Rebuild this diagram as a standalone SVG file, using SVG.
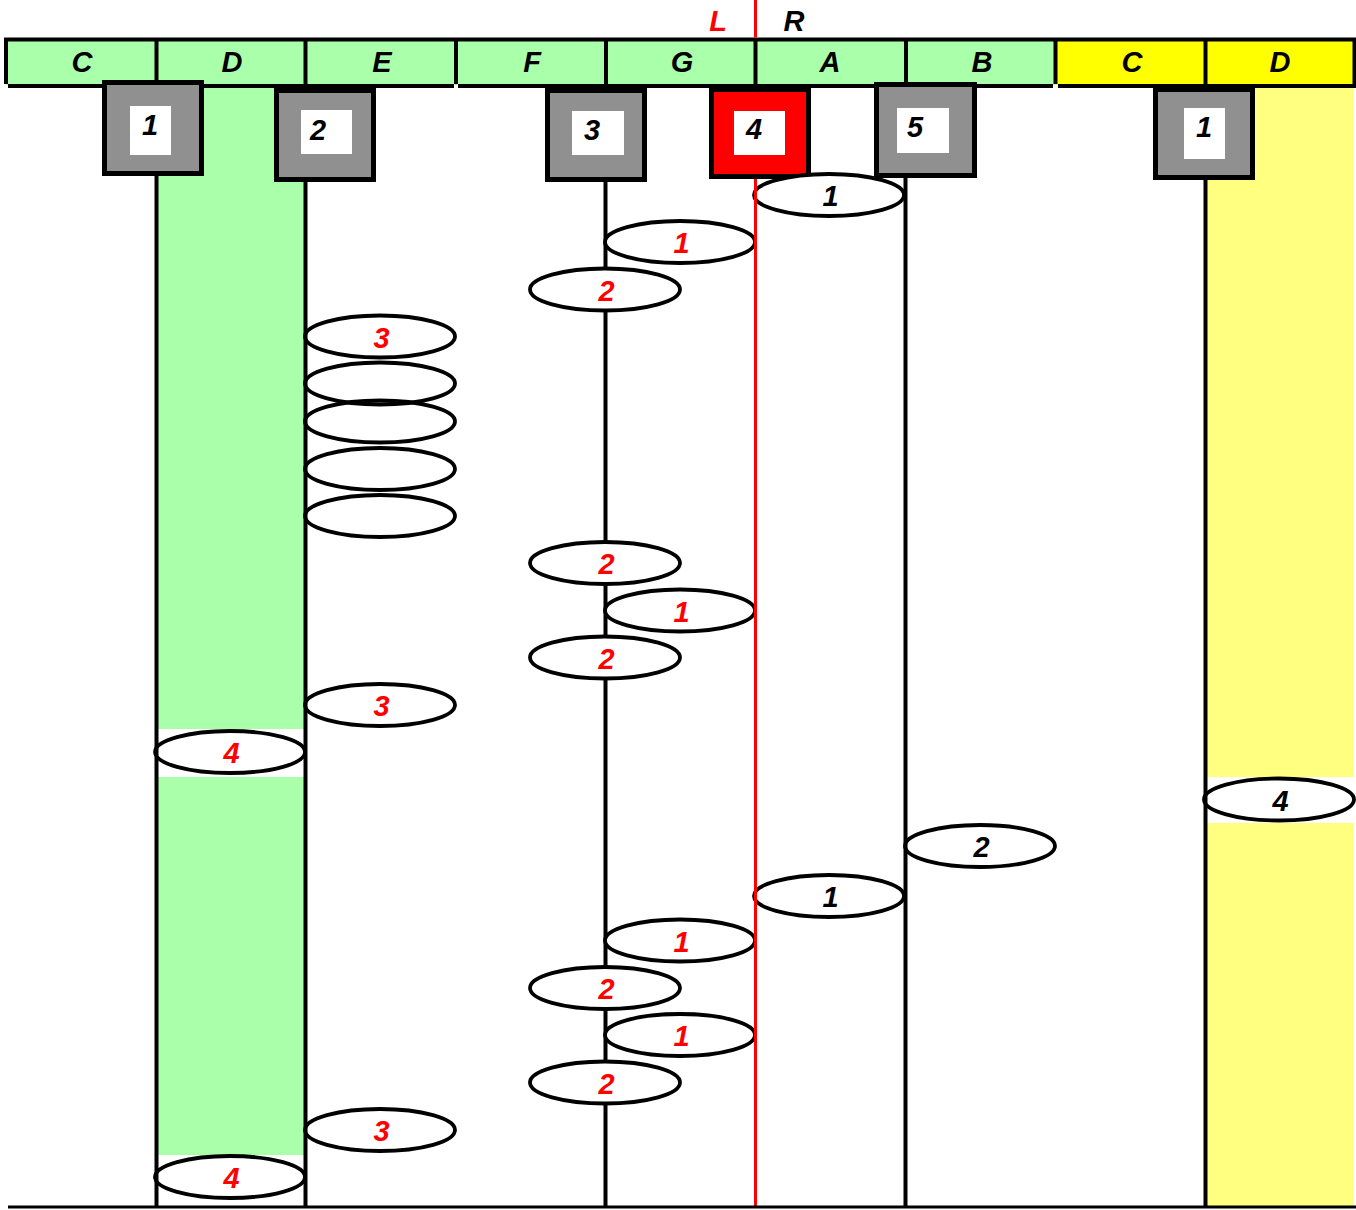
<svg xmlns="http://www.w3.org/2000/svg" width="1356" height="1210" viewBox="0 0 1356 1210">
<style>
.t{font-family:"Liberation Sans",Arial,sans-serif;font-weight:bold;font-style:italic;font-size:29px;text-anchor:middle}
.red{fill:#ff0000}
.blk{fill:#000000}
.lane{stroke:#000;stroke-width:4;fill:none}
.hl{stroke:#000;stroke-width:4;fill:none}
.box{fill:#909090;stroke:#000;stroke-width:5}
.box4{fill:#ff0000;stroke:#000;stroke-width:5}
.win{fill:#fff}
.ef{fill:#fff;stroke:none}
.es{fill:none;stroke:#000;stroke-width:3.8}
</style>
<rect width="1356" height="1210" fill="#fff"/>
<g id="columns">
<rect x="157" y="86" width="148" height="643" fill="#aaffaa"/>
<rect x="157" y="777" width="148" height="378" fill="#aaffaa"/>
<rect x="1207" y="86" width="147" height="691" fill="#ffff80"/>
<rect x="1207" y="823" width="147" height="384" fill="#ffff80"/>
</g>
<g id="connectors-under">
<line class="lane" x1="605.5" y1="180" x2="605.5" y2="1207"/>
</g>
<g id="header">
<rect x="6" y="40" width="1049" height="45" fill="#aaffaa"/>
<rect x="1055" y="40" width="299" height="45" fill="#ffff00"/>
<line class="hl" x1="4" y1="39.5" x2="1356" y2="39.5"/>
<line class="hl" x1="8" y1="86" x2="454" y2="86"/>
<line class="hl" x1="458" y1="86" x2="1053" y2="86"/>
<line class="hl" x1="1058" y1="86" x2="1356" y2="86"/>
<line class="hl" x1="6" y1="38" x2="6" y2="84"/>
<line class="hl" x1="156.5" y1="38" x2="156.5" y2="86"/>
<line class="hl" x1="305.5" y1="38" x2="305.5" y2="86"/>
<line class="hl" x1="456" y1="38" x2="456" y2="84"/>
<line class="hl" x1="606" y1="38" x2="606" y2="86"/>
<line class="hl" x1="755.5" y1="38" x2="755.5" y2="86"/>
<line class="hl" x1="906" y1="38" x2="906" y2="86"/>
<line class="hl" x1="1055.5" y1="38" x2="1055.5" y2="84"/>
<line class="hl" x1="1205.5" y1="38" x2="1205.5" y2="86"/>
<line class="hl" x1="1354.5" y1="38" x2="1354.5" y2="86"/>
<text class="t blk" x="82" y="72">C</text>
<text class="t blk" x="232" y="72">D</text>
<text class="t blk" x="382" y="72">E</text>
<text class="t blk" x="532" y="72">F</text>
<text class="t blk" x="682" y="72">G</text>
<text class="t blk" x="830" y="72">A</text>
<text class="t blk" x="982" y="72">B</text>
<text class="t blk" x="1132" y="72">C</text>
<text class="t blk" x="1280" y="72">D</text>
<text class="t red" x="718" y="31">L</text>
<text class="t blk" x="794" y="31">R</text>
</g>
<g id="box-1">
<rect class="box" x="104.5" y="82.5" width="97" height="91"/>
<rect class="win" x="130" y="106" width="41" height="49"/>
<text class="t blk" x="150" y="135">1</text>
</g>
<g id="box-2">
<rect class="box" x="276.5" y="90.5" width="97" height="89"/>
<rect class="win" x="301" y="110" width="51" height="44"/>
<text class="t blk" x="318" y="140">2</text>
</g>
<g id="box-3">
<rect class="box" x="547.5" y="90.5" width="97" height="89"/>
<rect class="win" x="572" y="111" width="52" height="44"/>
<text class="t blk" x="592" y="140">3</text>
</g>
<g id="box-4">
<rect class="box4" x="711.5" y="89.5" width="97" height="87"/>
<rect class="win" x="734" y="111" width="51" height="44"/>
<text class="t blk" x="754" y="139">4</text>
</g>
<g id="box-5">
<rect class="box" x="876.5" y="84.5" width="98" height="91"/>
<rect class="win" x="897" y="108" width="52" height="45"/>
<text class="t blk" x="915" y="137">5</text>
</g>
<g id="box-1r">
<rect class="box" x="1155.5" y="89.5" width="97" height="88"/>
<rect class="win" x="1184" y="108" width="41" height="51"/>
<text class="t blk" x="1204" y="137">1</text>
</g>
<g id="ellipse-fills">
<ellipse class="ef" cx="829" cy="195" rx="75" ry="21"/>
<ellipse class="ef" cx="680" cy="242" rx="75" ry="21"/>
<ellipse class="ef" cx="605" cy="289.5" rx="75" ry="21"/>
<ellipse class="ef" cx="380" cy="336.5" rx="75" ry="21"/>
<ellipse class="ef" cx="380" cy="383.5" rx="75" ry="21"/>
<ellipse class="ef" cx="380" cy="421.5" rx="75" ry="21"/>
<ellipse class="ef" cx="380" cy="469" rx="75" ry="21"/>
<ellipse class="ef" cx="380" cy="516" rx="75" ry="21"/>
<ellipse class="ef" cx="605" cy="563" rx="75" ry="21"/>
<ellipse class="ef" cx="680" cy="610.5" rx="75" ry="21"/>
<ellipse class="ef" cx="605" cy="657.5" rx="75" ry="21"/>
<ellipse class="ef" cx="380" cy="705" rx="75" ry="21"/>
<ellipse class="ef" cx="230" cy="752" rx="75" ry="21"/>
<ellipse class="ef" cx="1279" cy="799.5" rx="75" ry="21"/>
<ellipse class="ef" cx="980" cy="846" rx="75" ry="21"/>
<ellipse class="ef" cx="829" cy="896" rx="75" ry="21"/>
<ellipse class="ef" cx="680" cy="940.5" rx="75" ry="21"/>
<ellipse class="ef" cx="605" cy="988" rx="75" ry="21"/>
<ellipse class="ef" cx="680" cy="1035" rx="75" ry="21"/>
<ellipse class="ef" cx="605" cy="1082.5" rx="75" ry="21"/>
<ellipse class="ef" cx="380" cy="1130" rx="75" ry="21"/>
<ellipse class="ef" cx="230" cy="1177" rx="75" ry="21"/>
</g>
<g id="ellipse-strokes">
<ellipse class="es" cx="829" cy="195" rx="75" ry="21"/>
<ellipse class="es" cx="680" cy="242" rx="75" ry="21"/>
<ellipse class="es" cx="605" cy="289.5" rx="75" ry="21"/>
<ellipse class="es" cx="380" cy="336.5" rx="75" ry="21"/>
<ellipse class="es" cx="380" cy="383.5" rx="75" ry="21"/>
<ellipse class="es" cx="380" cy="421.5" rx="75" ry="21"/>
<ellipse class="es" cx="380" cy="469" rx="75" ry="21"/>
<ellipse class="es" cx="380" cy="516" rx="75" ry="21"/>
<ellipse class="es" cx="605" cy="563" rx="75" ry="21"/>
<ellipse class="es" cx="680" cy="610.5" rx="75" ry="21"/>
<ellipse class="es" cx="605" cy="657.5" rx="75" ry="21"/>
<ellipse class="es" cx="380" cy="705" rx="75" ry="21"/>
<ellipse class="es" cx="230" cy="752" rx="75" ry="21"/>
<ellipse class="es" cx="1279" cy="799.5" rx="75" ry="21"/>
<ellipse class="es" cx="980" cy="846" rx="75" ry="21"/>
<ellipse class="es" cx="829" cy="896" rx="75" ry="21"/>
<ellipse class="es" cx="680" cy="940.5" rx="75" ry="21"/>
<ellipse class="es" cx="605" cy="988" rx="75" ry="21"/>
<ellipse class="es" cx="680" cy="1035" rx="75" ry="21"/>
<ellipse class="es" cx="605" cy="1082.5" rx="75" ry="21"/>
<ellipse class="es" cx="380" cy="1130" rx="75" ry="21"/>
<ellipse class="es" cx="230" cy="1177" rx="75" ry="21"/>
</g>
<g id="connectors">
<line class="lane" x1="156.5" y1="176" x2="156.5" y2="1207"/>
<line class="lane" x1="305.5" y1="182" x2="305.5" y2="1207"/>
<line class="lane" x1="905.5" y1="178" x2="905.5" y2="1207"/>
<line class="lane" x1="1205.5" y1="180" x2="1205.5" y2="1207"/>
<line x1="755.5" y1="0" x2="755.5" y2="37.5" stroke="#ff0000" stroke-width="3"/>
<line x1="755.5" y1="179" x2="755.5" y2="1207" stroke="#ff0000" stroke-width="3"/>
<line x1="8" y1="1207" x2="1356" y2="1207" stroke="#000" stroke-width="3"/>
</g>
<g id="ellipse-labels">
<text class="t blk" x="830.5" y="206">1</text>
<text class="t red" x="681.5" y="253">1</text>
<text class="t red" x="606.5" y="300.5">2</text>
<text class="t red" x="381.5" y="347.5">3</text>
<text class="t red" x="606.5" y="574">2</text>
<text class="t red" x="681.5" y="621.5">1</text>
<text class="t red" x="606.5" y="668.5">2</text>
<text class="t red" x="381.5" y="716">3</text>
<text class="t red" x="231.5" y="763">4</text>
<text class="t blk" x="1280.5" y="810.5">4</text>
<text class="t blk" x="981.5" y="857">2</text>
<text class="t blk" x="830.5" y="907">1</text>
<text class="t red" x="681.5" y="951.5">1</text>
<text class="t red" x="606.5" y="999">2</text>
<text class="t red" x="681.5" y="1046">1</text>
<text class="t red" x="606.5" y="1093.5">2</text>
<text class="t red" x="381.5" y="1141">3</text>
<text class="t red" x="231.5" y="1188">4</text>
</g>
</svg>
